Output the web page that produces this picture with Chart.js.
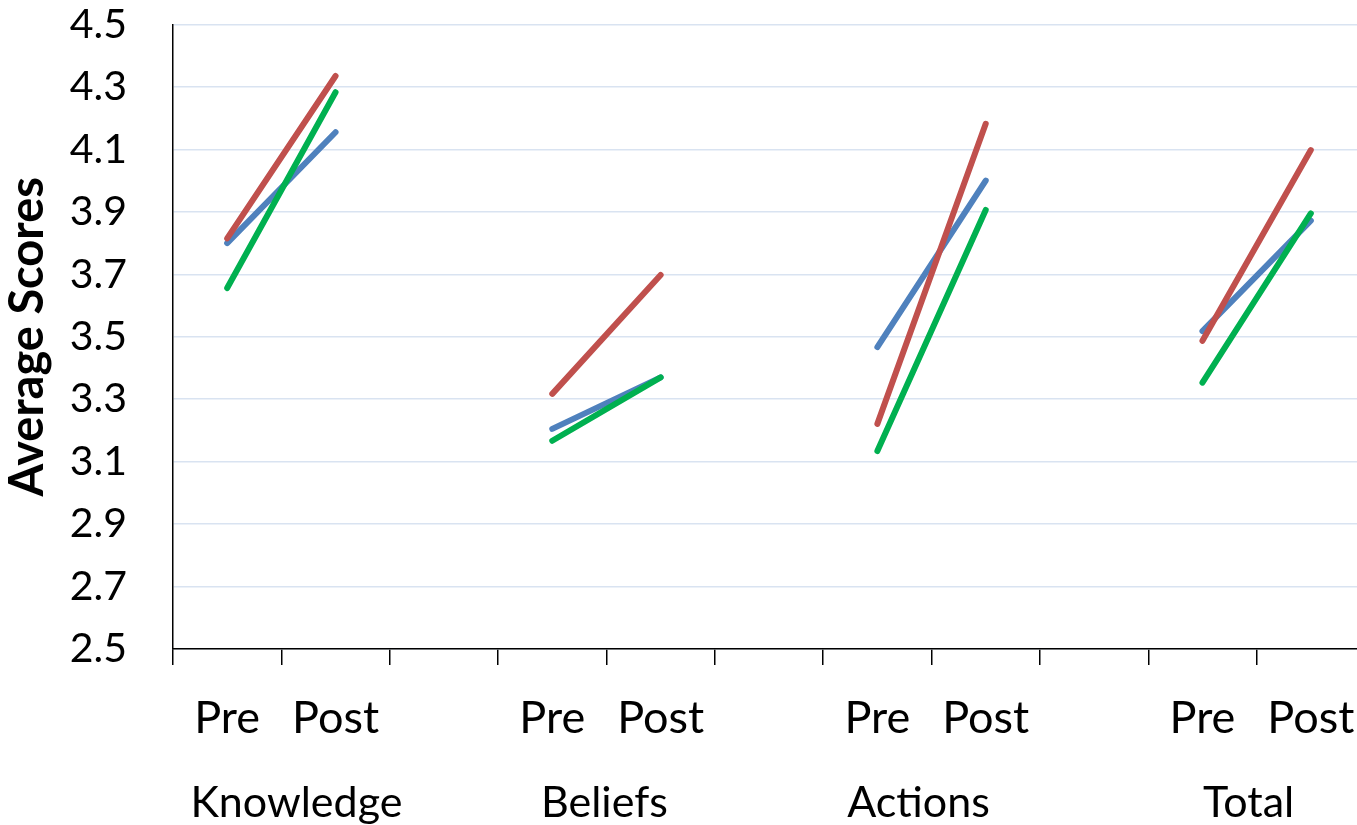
<!DOCTYPE html>
<html>
<head>
<meta charset="utf-8">
<script src="https://cdn.jsdelivr.net/npm/chart.js@4/dist/chart.umd.min.js"></script>
<style>
  html, body { margin: 0; padding: 0; background: #ffffff; overflow: hidden; }
  #wrap { width: 1357px; height: 825px; position: relative; overflow: hidden; }
  #c { display: block; }
</style>
</head>
<body>
<div id="wrap"><canvas id="c" width="1365" height="825"></canvas></div>
<script>
// Categories (blank slots separate the groups)
const categories = ["Pre", "Post", "", "Pre", "Post", "", "Pre", "Post", "", "Pre", "Post"];
const groupLabels = ["Knowledge", "Beliefs", "Actions", "Total"];
const yTicks = [2.5, 2.7, 2.9, 3.1, 3.3, 3.5, 3.7, 3.9, 4.1, 4.3, 4.5];

// Series values
const blueSeries  = [3.80, 4.155, null, 3.205, 3.37, null, 3.467, 4.00, null, 3.518, 3.872];
const redSeries   = [3.815, 4.335, null, 3.317, 3.698, null, 3.221, 4.182, null, 3.487, 4.098];
const greenSeries = [3.656, 4.283, null, 3.167, 3.37, null, 3.134, 3.906, null, 3.353, 3.895];

const FONT = "Lato, 'Open Sans', sans-serif";

const groupLabelPlugin = {
  id: 'groupLabels',
  afterDraw(chart) {
    const xs = chart.scales.x;
    const ctx = chart.ctx;
    const shifts = [15, -2, -13, -8];
    ctx.save();
    ctx.font = "43px " + FONT;
    ctx.fillStyle = "#000000";
    ctx.textAlign = "center";
    ctx.textBaseline = "middle";
    groupLabels.forEach((g, i) => {
      const x = (xs.getPixelForTick(i * 3) + xs.getPixelForTick(i * 3 + 1)) / 2 + shifts[i];
      ctx.fillText(g, x, 803);
    });
    ctx.restore();
  }
};

const common = { fill: false, pointRadius: 0, pointHoverRadius: 0, borderWidth: 6, borderCapStyle: 'round', spanGaps: false, tension: 0 };

new Chart(document.getElementById('c'), {
  type: 'line',
  data: {
    labels: categories,
    datasets: [
      Object.assign({ label: 'Series 3', data: greenSeries, borderColor: '#00B050', backgroundColor: '#00B050' }, common),
      Object.assign({ label: 'Series 2', data: redSeries, borderColor: '#C0504D', backgroundColor: '#C0504D' }, common),
      Object.assign({ label: 'Series 1', data: blueSeries, borderColor: '#4F81BD', backgroundColor: '#4F81BD' }, common)
    ]
  },
  options: {
    responsive: false,
    devicePixelRatio: 1,
    animation: false,
    layout: { padding: { top: 24.5, right: 0, left: 0, bottom: 0 } },
    plugins: { legend: { display: false }, tooltip: { enabled: false } },
    scales: {
      x: {
        type: 'category',
        offset: true,
        grid: { display: true, offset: true, drawOnChartArea: false, drawTicks: true, tickLength: 16, color: '#000000', lineWidth: 1.5 },
        border: { display: true, color: '#000000', width: 1.5 },
        ticks: { autoSkip: false, maxRotation: 0, minRotation: 0, color: '#000000', font: { family: FONT, size: 45 }, padding: 26 },
        afterFit(scale) { scale.height = 176; scale.paddingLeft = 0; scale.paddingRight = 0; }
      },
      y: {
        min: 2.5,
        max: 4.5,
        afterBuildTicks(scale) { scale.ticks = yTicks.map(v => ({ value: v })); },
        grid: { display: true, drawTicks: false, color: '#D9E3F1', lineWidth: 1.5 },
        border: { display: true, color: '#000000', width: 1.5 },
        ticks: { color: '#000000', font: { family: FONT, size: 41 }, padding: 46, callback: (v) => Number(v).toFixed(1) },
        title: { display: true, text: 'Average Scores', color: '#000000', font: { family: FONT, size: 47, weight: 'bold' }, padding: { top: 0, bottom: 0 } },
        afterFit(scale) { scale.width = 173; scale.paddingTop = 0; scale.paddingBottom = 0; }
      }
    }
  },
  plugins: [groupLabelPlugin]
});
</script>
</body>
</html>
